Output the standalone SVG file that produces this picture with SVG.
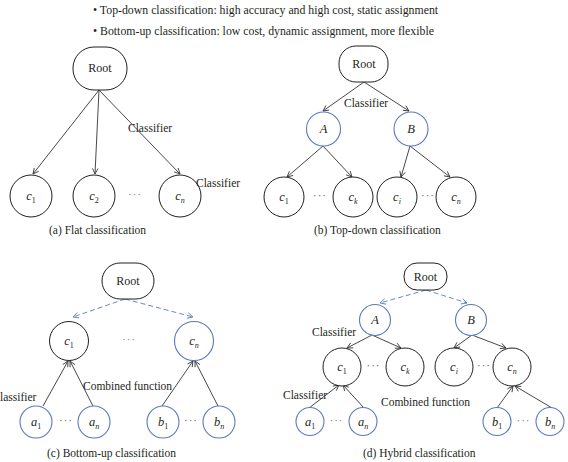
<svg xmlns="http://www.w3.org/2000/svg" width="568" height="462" viewBox="0 0 568 462">
<style>
text{font-family:"Liberation Serif","Times New Roman",serif;fill:#231f20}
.lbl{font-size:11.5px}
.cap{font-size:11.5px}
.bul{font-size:11.8px}
.rt{font-size:12px;text-anchor:middle}
.nd{font-size:12.5px;font-style:italic;text-anchor:middle}
.sub{font-size:8px;font-style:normal}
.si{font-size:8px;font-style:italic}
.k{fill:#fff;stroke:#231f20;stroke-width:1}
.b{fill:#fff;stroke:#5a79c2;stroke-width:1.1}
.ln{stroke:#333;stroke-width:0.9;fill:none;marker-end:url(#ah)}
.dl{stroke:#5a79c2;stroke-width:0.9;fill:none;stroke-dasharray:5 3;marker-end:url(#ahb)}
.dots{font-size:11px;text-anchor:middle;letter-spacing:1px}
.dk{fill:#555}
.db{fill:#5a79c2}
</style>
<defs>
<marker id="ah" viewBox="0 0 10 10" refX="9" refY="5" markerWidth="7" markerHeight="7" markerUnits="userSpaceOnUse" orient="auto">
<path d="M1,1 L9,5 L1,9" fill="none" stroke="#333" stroke-width="1.2"/>
</marker>
<marker id="ahb" viewBox="0 0 10 10" refX="9" refY="5" markerWidth="7" markerHeight="7" markerUnits="userSpaceOnUse" orient="auto">
<path d="M1,1 L9,5 L1,9" fill="none" stroke="#5a79c2" stroke-width="1.2"/>
</marker>
</defs>

<g id="bullets">
<text class="bul" x="93" y="14">• Top-down classification: high accuracy and high cost, static assignment</text>
<text class="bul" x="93" y="35">• Bottom-up classification: low cost, dynamic assignment, more flexible</text>
</g>

<g id="connectors">
<!-- a -->
<line class="ln" x1="99" y1="90" x2="33" y2="174"/>
<line class="ln" x1="99" y1="90" x2="95" y2="174"/>
<line class="ln" x1="99" y1="90" x2="180" y2="174"/>
<!-- b -->
<line class="ln" x1="364" y1="82" x2="323" y2="111"/>
<line class="ln" x1="364" y1="82" x2="409" y2="111"/>
<line class="ln" x1="323" y1="146" x2="287" y2="177"/>
<line class="ln" x1="323" y1="146" x2="352" y2="177"/>
<line class="ln" x1="410" y1="146" x2="401" y2="177"/>
<line class="ln" x1="410" y1="146" x2="450" y2="177"/>
<!-- c -->
<line class="dl" x1="125" y1="299" x2="73" y2="317"/>
<line class="dl" x1="125" y1="299" x2="193" y2="317"/>
<line class="ln" x1="43" y1="406" x2="68" y2="361"/>
<line class="ln" x1="93" y1="406" x2="70" y2="361"/>
<line class="ln" x1="162" y1="406" x2="193" y2="361"/>
<line class="ln" x1="218" y1="406" x2="195" y2="361"/>
<!-- d -->
<line class="dl" x1="426" y1="290" x2="380" y2="303"/>
<line class="dl" x1="426" y1="290" x2="467" y2="303"/>
<line class="ln" x1="372" y1="335" x2="347" y2="348"/>
<line class="ln" x1="372" y1="335" x2="401" y2="348"/>
<line class="ln" x1="472" y1="335" x2="454" y2="348"/>
<line class="ln" x1="472" y1="335" x2="506" y2="348"/>
<line class="ln" x1="309" y1="408" x2="339" y2="385"/>
<line class="ln" x1="364" y1="408" x2="343" y2="385"/>
<line class="ln" x1="497" y1="408" x2="513" y2="386"/>
<line class="ln" x1="552" y1="408" x2="515" y2="386"/>
</g>

<!-- Panel a -->
<g id="a-root"><rect class="k" x="73" y="47" width="54" height="43" rx="21"/><text class="rt" x="100" y="72">Root</text></g>
<g id="a-c1"><circle class="k" cx="31" cy="196" r="21"/><text class="nd" x="31" y="200">c<tspan class="sub" dy="3">1</tspan></text></g>
<g id="a-c2"><circle class="k" cx="94" cy="196" r="21"/><text class="nd" x="94" y="200">c<tspan class="sub" dy="3">2</tspan></text></g>
<g id="a-cn"><circle class="k" cx="180" cy="196" r="21"/><text class="nd" x="180" y="200">c<tspan class="si" dy="3">n</tspan></text></g>
<text class="dots db" x="135" y="198">···</text>
<text class="lbl" x="128" y="132">Classifier</text>
<text class="lbl" x="196" y="187">Classifier</text>
<text class="cap" x="49" y="234">(a) Flat classification</text>

<!-- Panel b -->
<g id="b-root"><rect class="k" x="339" y="46" width="49" height="36" rx="17"/><text class="rt" x="364" y="68">Root</text></g>
<g id="b-A"><circle class="b" cx="323.5" cy="129" r="17"/><text class="nd" x="323.5" y="133">A</text></g>
<g id="b-B"><circle class="b" cx="411" cy="129" r="17"/><text class="nd" x="411" y="133">B</text></g>
<g id="b-c1"><circle class="k" cx="284" cy="197" r="20"/><text class="nd" x="284" y="201">c<tspan class="sub" dy="3">1</tspan></text></g>
<g id="b-ck"><circle class="k" cx="353" cy="197" r="20"/><text class="nd" x="353" y="201">c<tspan class="si" dy="3">k</tspan></text></g>
<g id="b-ci"><circle class="k" cx="397" cy="197" r="20"/><text class="nd" x="397" y="201">c<tspan class="si" dy="3">i</tspan></text></g>
<g id="b-cn"><circle class="k" cx="456" cy="197" r="20"/><text class="nd" x="456" y="201">c<tspan class="si" dy="3">n</tspan></text></g>
<text class="dots dk" x="320" y="199">···</text>
<text class="dots dk" x="428" y="199">···</text>
<text class="lbl" x="344" y="107">Classifier</text>
<text class="cap" x="314" y="234">(b) Top-down classification</text>

<!-- Panel c -->
<g id="c-root"><rect class="k" x="102" y="263" width="52" height="36" rx="18"/><text class="rt" x="128" y="285">Root</text></g>
<g id="c-c1"><circle class="k" cx="69" cy="341" r="19.5"/><text class="nd" x="69" y="345">c<tspan class="sub" dy="3">1</tspan></text></g>
<g id="c-cn"><circle class="b" cx="194" cy="341" r="19.5"/><text class="nd" x="194" y="345">c<tspan class="si" dy="3">n</tspan></text></g>
<g id="c-a1"><circle class="b" cx="36" cy="422" r="16"/><text class="nd" x="36" y="426">a<tspan class="sub" dy="3">1</tspan></text></g>
<g id="c-an"><circle class="b" cx="94" cy="422" r="16"/><text class="nd" x="94" y="426">a<tspan class="si" dy="3">n</tspan></text></g>
<g id="c-b1"><circle class="b" cx="163" cy="422" r="16"/><text class="nd" x="163" y="426">b<tspan class="sub" dy="3">1</tspan></text></g>
<g id="c-bn"><circle class="b" cx="219" cy="422" r="16"/><text class="nd" x="219" y="426">b<tspan class="si" dy="3">n</tspan></text></g>
<text class="dots db" x="129" y="343">···</text>
<text class="dots dk" x="66" y="424">···</text>
<text class="dots dk" x="191" y="424">···</text>
<text class="lbl" x="0" y="401">lassifier</text>
<text class="lbl" x="83" y="390">Combined function</text>
<text class="cap" x="47" y="457">(c) Bottom-up classification</text>

<!-- Panel d -->
<g id="d-root"><rect class="k" x="404" y="263" width="43" height="27" rx="13"/><text class="rt" x="425.5" y="280.5">Root</text></g>
<g id="d-A"><circle class="b" cx="375" cy="320" r="15.5"/><text class="nd" x="375" y="324">A</text></g>
<g id="d-B"><circle class="b" cx="471" cy="320" r="15.5"/><text class="nd" x="471" y="324">B</text></g>
<g id="d-c1"><circle class="k" cx="342" cy="367" r="19"/><text class="nd" x="342" y="371">c<tspan class="sub" dy="3">1</tspan></text></g>
<g id="d-ck"><circle class="k" cx="405" cy="367" r="19"/><text class="nd" x="405" y="371">c<tspan class="si" dy="3">k</tspan></text></g>
<g id="d-ci"><circle class="k" cx="454" cy="367" r="19"/><text class="nd" x="454" y="371">c<tspan class="si" dy="3">i</tspan></text></g>
<g id="d-cn"><circle class="k" cx="512" cy="367" r="19"/><text class="nd" x="512" y="371">c<tspan class="si" dy="3">n</tspan></text></g>
<g id="d-a1"><circle class="b" cx="310" cy="421.5" r="14"/><text class="nd" x="310" y="425.5">a<tspan class="sub" dy="3">1</tspan></text></g>
<g id="d-an"><circle class="b" cx="363" cy="421.5" r="14"/><text class="nd" x="363" y="425.5">a<tspan class="si" dy="3">n</tspan></text></g>
<g id="d-b1"><circle class="b" cx="497" cy="421.5" r="14"/><text class="nd" x="497" y="425.5">b<tspan class="sub" dy="3">1</tspan></text></g>
<g id="d-bn"><circle class="b" cx="550" cy="421.5" r="14"/><text class="nd" x="550" y="425.5">b<tspan class="si" dy="3">n</tspan></text></g>
<text class="dots dk" x="373.5" y="369">···</text>
<text class="dots dk" x="484" y="369">···</text>
<text class="dots db" x="336.5" y="424">···</text>
<text class="dots db" x="523.5" y="424">···</text>
<text class="lbl" x="312" y="336">Classifier</text>
<text class="lbl" x="283" y="399">Classifier</text>
<text class="lbl" x="381" y="406">Combined function</text>
<text class="cap" x="363" y="457">(d) Hybrid classification</text>
</svg>
